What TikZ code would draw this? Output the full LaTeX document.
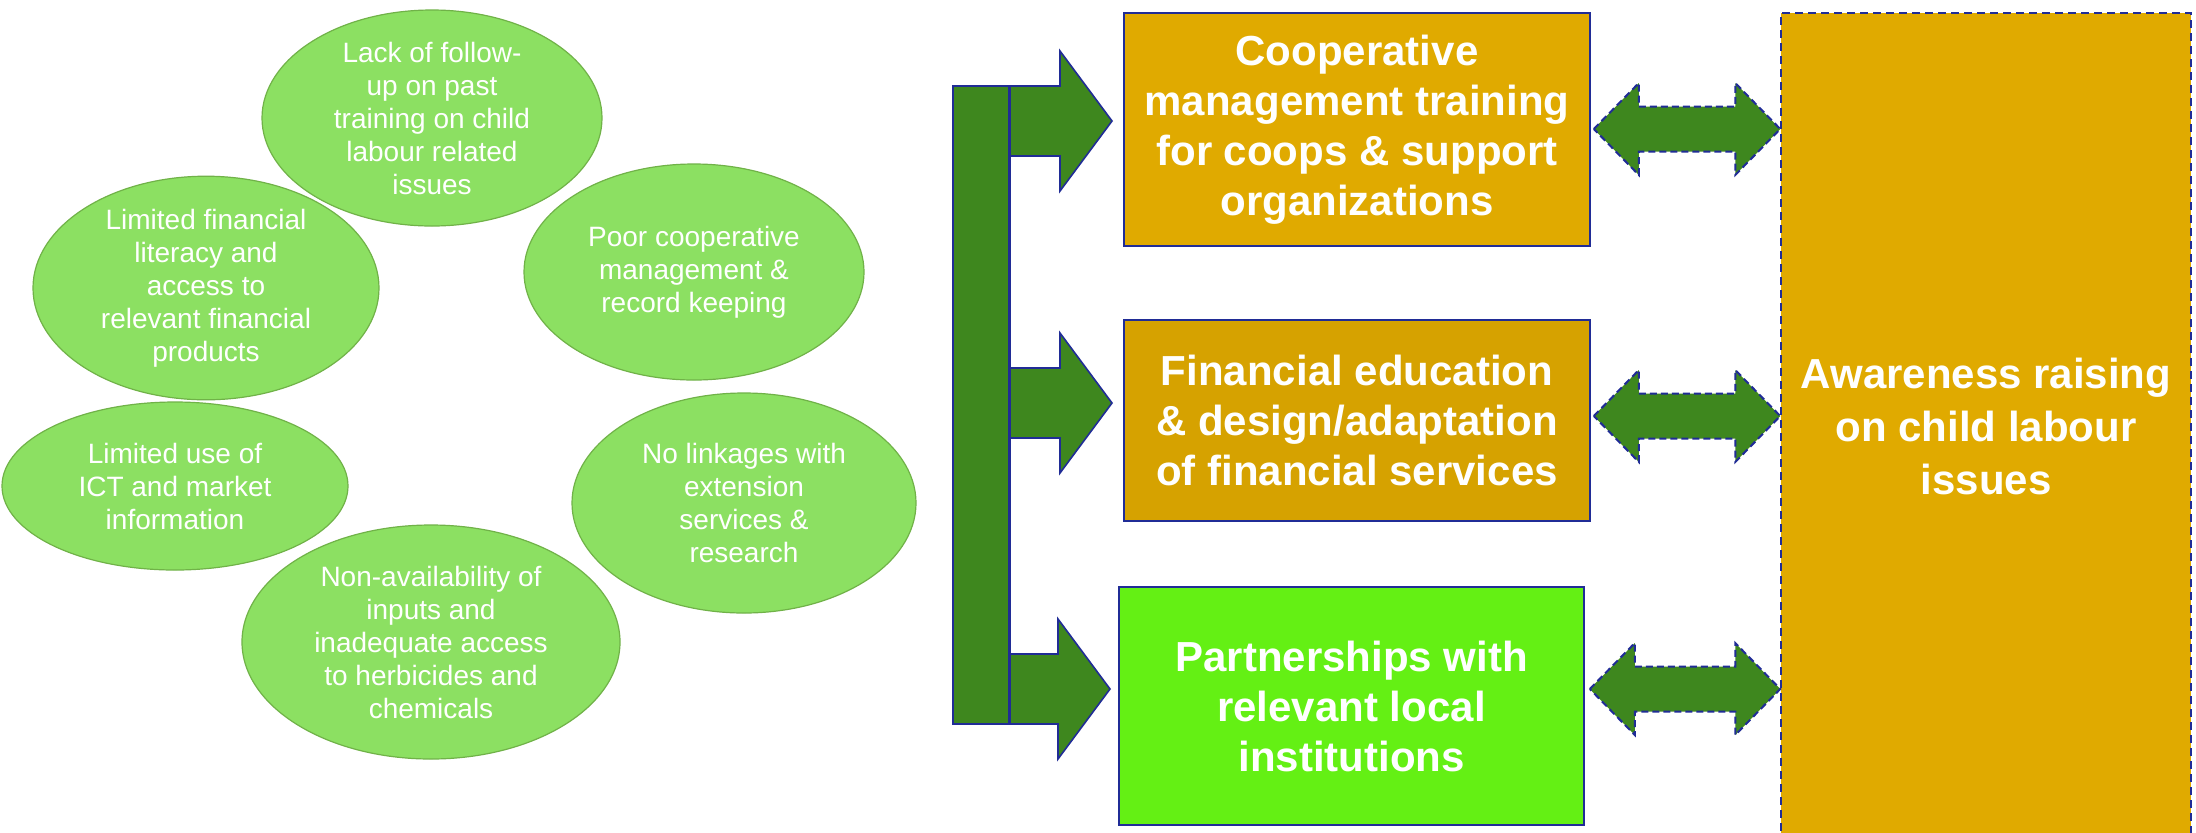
\documentclass[tikz,border=0pt]{standalone}
\usepackage{fontspec}
\setmainfont{Liberation Sans}
\usetikzlibrary{shapes.geometric,calc}
\definecolor{navy}{RGB}{32,44,150}
\definecolor{agreen}{RGB}{62,135,30}
\definecolor{gold}{RGB}{224,170,0}
\definecolor{goldb}{RGB}{214,162,0}
\definecolor{lime}{RGB}{100,240,20}
\definecolor{efill}{RGB}{140,224,98}
\definecolor{eline}{RGB}{112,178,72}
\tikzset{
 prob/.style={ellipse, fill=efill, draw=eline, line width=0.6pt, inner sep=0pt,
   text=white, align=center, font=\fontsize{14}{16.5}\selectfont},
 actbox/.style={rectangle, draw=navy, line width=0.8pt, inner sep=0pt, text=white,
   align=center, font=\fontsize{21}{25}\selectfont\bfseries},
 blockarr/.style={fill=agreen, draw=navy, line width=0.8pt, line join=miter},
 duoarr/.style={fill=agreen, draw=navy, line width=1pt, dash pattern=on 3.5pt off 2pt},
}
\newcommand\myarrowone[2]{\path[blockarr] let \p1=(#1), \p2=(#2) in
  (\x1,\y2+17.5pt) -- (\x2-26pt,\y2+17.5pt) -- (\x2-26pt,\y2+35pt) -- (\x2,\y2)
  -- (\x2-26pt,\y2-35pt) -- (\x2-26pt,\y2-17.5pt) -- (\x1,\y2-17.5pt) -- cycle;}
\newcommand\myarrowtwo[2]{\path[duoarr] let \p1=(#1), \p2=(#2) in
  (\x1,\y1) -- (\x1+22.5pt,\y1+23pt) -- (\x1+22.5pt,\y1+11.25pt) -- (\x2-22.5pt,\y1+11.25pt)
  -- (\x2-22.5pt,\y1+23pt) -- (\x2,\y1) -- (\x2-22.5pt,\y1-23pt) -- (\x2-22.5pt,\y1-11.25pt)
  -- (\x1+22.5pt,\y1-11.25pt) -- (\x1+22.5pt,\y1-23pt) -- cycle;}
\begin{document}
\begin{tikzpicture}[x=0.5pt,y=-0.5pt]
\fill[white] (0,0) rectangle (2196,832);
\useasboundingbox (0,0) rectangle (2196,832);

% problem ellipses
\node[prob, minimum width=170pt, minimum height=108pt] (e1) at (432,118)
  {Lack of follow-\\up on past\\training on child\\labour related\\issues};
\node[prob, minimum width=173pt, minimum height=108pt] (e2) at (206,288)
  {Limited financial\\literacy and\\access to\\relevant financial\\products};
\node[prob, minimum width=170pt, minimum height=108pt] (e3) at (694,272)
  {Poor cooperative\\management \&\\record keeping};
\node[prob, minimum width=173pt, minimum height=84pt] (e4) at (175,486)
  {Limited use of\\ICT and market\\information};
\node[prob, minimum width=189pt, minimum height=117pt] (e5) at (431,642)
  {Non-availability of\\inputs and\\inadequate access\\to herbicides and\\chemicals};
\node[prob, minimum width=172pt, minimum height=110pt] (e6) at (744,503)
  {No linkages with\\extension\\services \&\\research};

% action boxes
\node[actbox, fill=gold, minimum width=233pt, minimum height=116.5pt] (b1) at (1357,129.5)
  {Cooperative\\management training\\for coops \& support\\organizations};
\node[actbox, fill=goldb, minimum width=233pt, minimum height=100.5pt] (b2) at (1357,420.5)
  {Financial education\\\& design/adaptation\\of financial services};
\node[actbox, fill=lime, minimum width=232.5pt, minimum height=119pt] (b3) at (1351.5,706)
  {Partnerships with\\relevant local\\institutions};

% awareness box
\node[actbox, fill=gold, draw=navy, line width=0.75pt, dash pattern=on 4pt off 2.5pt,
  minimum width=205pt, minimum height=413.5pt,
  font=\fontsize{21}{26.5}\selectfont\bfseries] (aw) at (1986,426.5)
  {Awareness raising\\on child labour\\issues};

% arrow tips
\coordinate (t1) at (1112,121);
\coordinate (t2) at (1112,403);
\coordinate (t3) at (1110,689);

% vertical bar and single arrows
\node[rectangle, draw=navy, line width=0.8pt, fill=agreen, inner sep=0pt,
  minimum width=28pt, minimum height=319pt] (bar) at (981,405) {};
\myarrowone{bar.east}{t1}
\myarrowone{bar.east}{t2}
\myarrowone{bar.east}{t3}
\draw[navy, line width=0.8pt] (bar.north east) -- (bar.south east);

% double arrows
\coordinate (d1) at ($(b1.east)+(3,-0.5)$);
\coordinate (d2) at ($(b2.east)+(3,-4.5)$);
\coordinate (d3) at ($(b3.east)+(5,-17)$);
\myarrowtwo{d1}{aw.west}
\myarrowtwo{d2}{aw.west}
\myarrowtwo{d3}{aw.west}
\end{tikzpicture}
\end{document}
